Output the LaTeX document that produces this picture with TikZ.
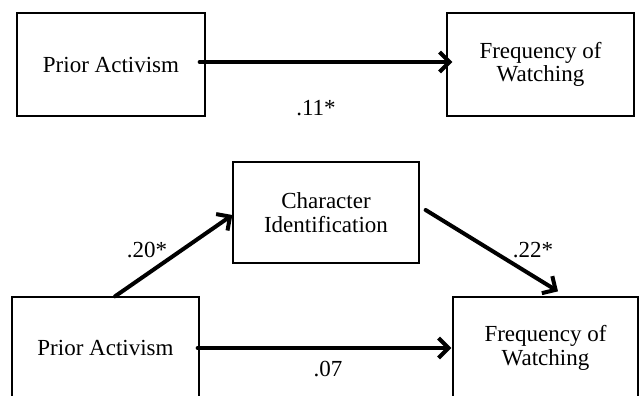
\documentclass[tikz,border=0pt]{standalone}
\usepackage{fontspec}
\setmainfont{Liberation Serif}
\usetikzlibrary{arrows.meta}
\begin{document}
\begin{tikzpicture}[x=1pt,y=-1pt,
  box/.style={draw, line width=1.3pt, align=center, inner sep=0pt,
    font=\fontsize{23}{23.5}\selectfont},
  lbl/.style={inner sep=0pt, font=\fontsize{23}{23}\selectfont},
  conn/.style={line width=4pt, line cap=round, -{Straight Barb[length=10pt,width=20pt]}}
]
\useasboundingbox (0,0) rectangle (640,396);
\clip (0,0) rectangle (640,396);
% top model
\node[box, minimum width=188pt, minimum height=103pt] (pa1) at (111,64.5) {Prior Activism};
\node[box, minimum width=187pt, minimum height=103pt] (fw1) at (540.5,64.5) {Frequency of\\Watching};
\draw[conn] ([xshift=-6pt,yshift=2.5pt]pa1.east) -- ([xshift=6pt,yshift=2.5pt]fw1.west);
\node[lbl] (l11) at (316,108) {.11*};
% bottom model
\node[box, minimum width=186pt, minimum height=101pt] (ci) at (326,212.5) {Character\\Identification};
\node[box, minimum width=187pt, minimum height=102pt] (pa2) at (105.5,348) {Prior Activism};
\node[box, minimum width=185pt, minimum height=102pt] (fw2) at (545.5,348) {Frequency of\\Watching};
\draw[conn] ([xshift=9.5pt]pa2.north) -- ([yshift=-2.5pt]ci.west);
\draw[conn] ([xshift=6pt,yshift=2.5pt]ci.east) -- ([xshift=12.5pt,yshift=5pt]fw2.north);
\draw[conn] ([xshift=-2pt]pa2.east) -- ([xshift=-1pt]fw2.west);
\node[lbl] (l20) at (147,250) {.20*};
\node[lbl] (l22) at (533,250) {.22*};
\node[lbl] (l07) at (328,369) {.07};
\end{tikzpicture}
\end{document}
